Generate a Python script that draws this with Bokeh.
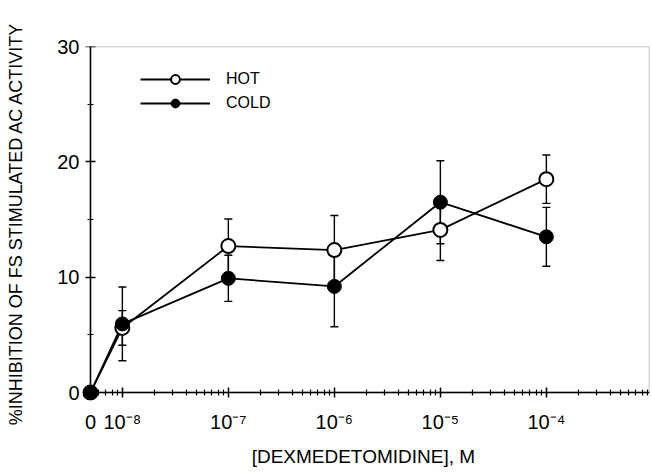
import math
from bokeh.plotting import figure
from bokeh.models import (ColumnDataSource, FixedTicker, LinearAxis, Whisker, TeeHead,
                          Legend, LegendItem, BoxAnnotation, Range1d)
from bokeh.embed import file_html
from bokeh.resources import INLINE

# ---- data ----
concentration = [0, 1e-8, 1e-7, 1e-6, 1e-5, 1e-4]        # M
hot_mean = [0.0, 5.6, 12.7, 12.35, 14.1, 18.5]
hot_err = [0.0, 1.5, 2.35, 3.0, 2.65, 2.1]
cold_mean = [0.0, 5.95, 9.9, 9.2, 16.5, 13.5]
cold_err = [0.0, 3.2, 2.0, 3.5, 3.6, 2.55]

x_decades = [-8, -7, -6, -5, -4]
x_tick_labels = ["10\u207b\u2078", "10\u207b\u2077", "10\u207b\u2076", "10\u207b\u2075", "10\u207b\u2074"]
y_ticks = [0, 10, 20, 30]
y_minor_ticks = [5, 15, 25]
series_names = ["HOT", "COLD"]

X_ZERO = round(math.log10(5e-9), 3)   # axis position used for the "0" dose
X_END = -3.027
Y_START = -0.69
FONT = "Liberation Sans"

def xpos(c):
    return X_ZERO if c == 0 else math.log10(c)

xs = [xpos(c) for c in concentration]

hot_src = ColumnDataSource(dict(x=xs, y=hot_mean))
cold_src = ColumnDataSource(dict(x=xs, y=cold_mean))

def err_src(mean, err):
    d = dict(x=[], upper=[], lower=[])
    for x, m, e in zip(xs, mean, err):
        if e > 0:
            d["x"].append(x)
            d["upper"].append(m + e)
            d["lower"].append(m - e)
    return ColumnDataSource(d)

p = figure(width=650, height=472, output_backend="svg", toolbar_location=None,
           x_range=Range1d(X_ZERO - 0.075, X_END), y_range=Range1d(Y_START, 30),
           x_axis_location=None, y_axis_location=None,
           min_border_left=82, min_border_right=1, min_border_top=46, min_border_bottom=72)
p.outline_line_color = None
p.xgrid.visible = False
p.ygrid.visible = False
p.background_fill_color = "white"
p.border_fill_color = "white"

minor_x = []
for d in range(-9, -3):
    for k in range(2, 10):
        v = math.log10(k * 10 ** d)
        if X_ZERO + 0.01 < v < X_END:
            minor_x.append(v)

overrides = {X_ZERO: "0"}
for d, lab in zip(x_decades, x_tick_labels):
    overrides[d] = lab

x_ticker = FixedTicker(ticks=[X_ZERO] + x_decades, minor_ticks=minor_x)
y_ticker = FixedTicker(ticks=y_ticks, minor_ticks=y_minor_ticks)

# --- text-only axes at the frame edges ---
x_text = LinearAxis(ticker=x_ticker, major_label_overrides=overrides,
                    axis_label="[DEXMEDETOMIDINE],  M")
y_text = LinearAxis(ticker=y_ticker, axis_label="%INHIBITION OF FS STIMULATED AC ACTIVITY")
for ax in (x_text, y_text):
    ax.axis_line_color = None
    ax.major_tick_line_color = None
    ax.minor_tick_line_color = None
    ax.major_tick_in = 0
    ax.major_tick_out = 0
    ax.minor_tick_in = 0
    ax.minor_tick_out = 0
    ax.major_label_text_font = FONT
    ax.major_label_text_color = "black"
    ax.axis_label_text_font = FONT
    ax.axis_label_text_font_style = "normal"
    ax.axis_label_text_color = "black"
x_text.major_label_text_font_size = "20px"
x_text.major_label_standoff = 10
x_text.axis_label_text_font_size = "19px"
x_text.axis_label_standoff = 10
y_text.major_label_text_font_size = "20px"
y_text.major_label_standoff = 3
y_text.axis_label_text_font_size = "18px"
y_text.axis_label_standoff = 28
p.add_layout(x_text, "below")
p.add_layout(y_text, "left")

# --- axis lines and ticks crossing at the origin ---
x_line = LinearAxis(fixed_location=0, ticker=x_ticker)
y_line = LinearAxis(fixed_location=X_ZERO, ticker=y_ticker)
for ax in (x_line, y_line):
    ax.axis_line_color = "black"
    ax.axis_line_width = 1.5
    ax.major_tick_line_color = "black"
    ax.major_tick_line_width = 1.5
    ax.minor_tick_line_color = "black"
    ax.minor_tick_line_width = 1.2
    ax.major_tick_in = 5
    ax.major_tick_out = 5
    ax.minor_tick_in = 3
    ax.minor_tick_out = 3
    ax.major_label_text_font_size = "0px"
    ax.major_label_text_alpha = 0
    ax.major_label_standoff = 0
p.add_layout(x_line, "below")
p.add_layout(y_line, "left")

# frame box (top / right edges)
p.add_layout(BoxAnnotation(left=X_ZERO, bottom=0, fill_color=None,
                           line_color="black", line_width=1.5))

# error bars
for mean, err in ((hot_mean, hot_err), (cold_mean, cold_err)):
    w = Whisker(base="x", upper="upper", lower="lower", source=err_src(mean, err),
                dimension="height", line_color="black", line_width=1.4,
                upper_head=TeeHead(size=8, line_color="black", line_width=1.4),
                lower_head=TeeHead(size=8, line_color="black", line_width=1.4))
    p.add_layout(w)

hot_line = p.line("x", "y", source=hot_src, line_color="black", line_width=1.8)
cold_line = p.line("x", "y", source=cold_src, line_color="black", line_width=1.8)
hot_pts = p.scatter("x", "y", source=hot_src, marker="circle", size=14,
                    fill_color="white", line_color="black", line_width=2)
cold_pts = p.scatter("x", "y", source=cold_src, marker="circle", size=14,
                     fill_color="black", line_color="black", line_width=1)

legend = Legend(items=[LegendItem(label=series_names[0], renderers=[hot_line, hot_pts]),
                       LegendItem(label=series_names[1], renderers=[cold_line, cold_pts])],
                location=(58, 286), orientation="vertical",
                glyph_width=70, glyph_height=22, label_height=22, spacing=2,
                label_standoff=16, padding=0, margin=0,
                border_line_color=None, background_fill_color=None,
                label_text_font=FONT, label_text_font_size="16px", label_text_color="black")
p.add_layout(legend)

open("out.html", "w").write(file_html(p, INLINE))
